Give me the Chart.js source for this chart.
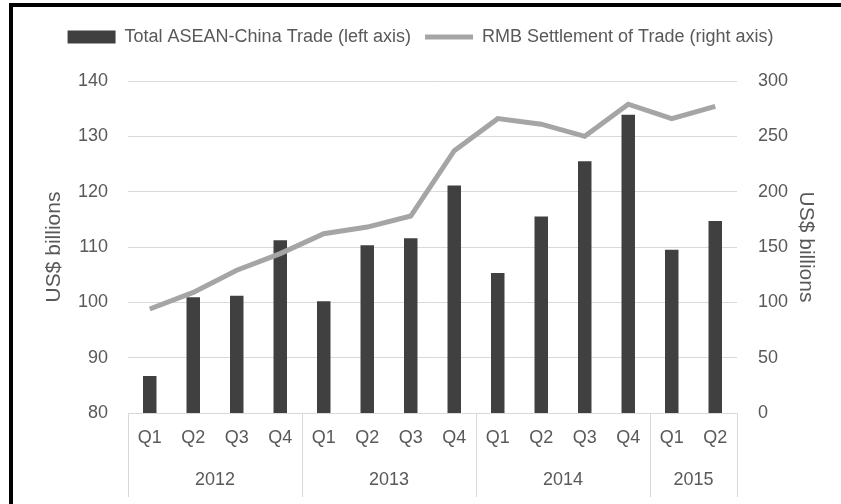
<!DOCTYPE html>
<html>
<head>
<meta charset="utf-8">
<script src="https://cdn.jsdelivr.net/npm/chart.js@4.4.0/dist/chart.umd.min.js"></script>
<style>
html, body { margin: 0; padding: 0; background: #fff; }
#wrap { position: relative; width: 841px; height: 504px; }
#frameTop { position: absolute; left: 9px; top: 3px; width: 832px; height: 4px; background: #000; }
#frameLeft { position: absolute; left: 9px; top: 3px; width: 4px; height: 501px; background: #000; }
</style>
</head>
<body>
<div id="wrap">
  <canvas id="tradeChart" width="841" height="504"></canvas>
  <div id="frameTop"></div>
  <div id="frameLeft"></div>
</div>
<script>
// data
const quarters = ['Q1', 'Q2', 'Q3', 'Q4', 'Q1', 'Q2', 'Q3', 'Q4', 'Q1', 'Q2', 'Q3', 'Q4', 'Q1', 'Q2'];
const years = ['2012', '2013', '2014', '2015'];
const yearSpans = [4, 4, 4, 2];
const tradeTotal = [86.7, 100.9, 101.2, 111.2, 100.2, 110.3, 111.6, 121.1, 105.3, 115.5, 125.5, 133.9, 109.5, 114.7];
const rmbSettlement = [94, 109, 129, 144, 162, 168, 178, 237, 266, 261, 250, 279, 266, 277];
const leftRange = [80, 140, 10];
const rightRange = [0, 300, 50];

const FONT = '"Liberation Sans", Arial, sans-serif';
const TEXT = '#595959';
const GRID = '#d9d9d9';

// second row of the category axis: years + separators
const yearAxisPlugin = {
    id: 'yearAxis',
    afterDraw(chart) {
        const x = chart.scales.x;
        const ctx = chart.ctx;
        const area = chart.chartArea;
        const half = (x.getPixelForValue(1) - x.getPixelForValue(0)) / 2;
        const edges = [0];
        yearSpans.forEach(n => edges.push(edges[edges.length - 1] + n));

        ctx.save();
        ctx.strokeStyle = GRID;
        ctx.lineWidth = 1;
        edges.forEach(i => {
            const last = i >= quarters.length;
            const px = Math.round(x.getPixelForValue(last ? quarters.length - 1 : i) + (last ? half : -half)) + 0.5;
            ctx.beginPath();
            ctx.moveTo(px, area.bottom);
            ctx.lineTo(px, area.bottom + 84);
            ctx.stroke();
        });
        ctx.fillStyle = TEXT;
        ctx.font = '18px ' + FONT;
        ctx.textAlign = 'center';
        ctx.textBaseline = 'middle';
        years.forEach((y, k) => {
            const a = x.getPixelForValue(edges[k]) - half;
            const b = x.getPixelForValue(edges[k + 1] - 1) + half;
            ctx.fillText(y, (a + b) / 2, area.bottom + 67);
        });
        ctx.restore();
    }
};

new Chart(document.getElementById('tradeChart'), {
    type: 'bar',
    data: {
        labels: quarters,
        datasets: [
            {
                type: 'line',
                label: 'RMB Settlement of Trade (right axis)',
                data: rmbSettlement,
                yAxisID: 'y2',
                borderColor: '#a5a5a5',
                borderWidth: 5,
                pointRadius: 0,
                tension: 0,
                order: 0
            },
            {
                label: 'Total ASEAN-China Trade (left axis)',
                data: tradeTotal,
                yAxisID: 'y',
                backgroundColor: '#404040',
                categoryPercentage: 1,
                barPercentage: 0.31,
                order: 1
            }
        ]
    },
    options: {
        responsive: false,
        animation: false,
        layout: { padding: { top: 14, left: 0, right: 0, bottom: 0 } },
        plugins: {
            tooltip: { enabled: false },
            // empty title used as a spacer between legend and plot
            title: { display: true, text: '', weight: 0, font: { size: 10 }, padding: { top: 7, bottom: 6 } },
            legend: {
                position: 'top',
                reverse: true,
                labels: {
                    font: { family: FONT, size: 18 },
                    color: TEXT,
                    usePointStyle: true,
                    pointStyleWidth: 48,
                    boxHeight: 13,
                    padding: 14,
                    generateLabels(chart) {
                        return chart.data.datasets.map((ds, i) => ({
                            text: ds.label,
                            datasetIndex: i,
                            fillStyle: ds.type === 'line' ? 'transparent' : ds.backgroundColor,
                            strokeStyle: ds.type === 'line' ? ds.borderColor : 'transparent',
                            lineWidth: ds.type === 'line' ? 5 : 0,
                            pointStyle: ds.type === 'line' ? 'line' : 'rect',
                            fontColor: TEXT
                        }));
                    }
                }
            }
        },
        scales: {
            x: {
                grid: { display: false, drawTicks: false },
                border: { display: true, color: GRID },
                ticks: { font: { family: FONT, size: 18 }, color: TEXT, padding: 14, maxRotation: 0, autoSkip: false },
                afterFit(scale) { scale.height = 91; }
            },
            y: {
                position: 'left',
                min: leftRange[0],
                max: leftRange[1],
                ticks: { stepSize: leftRange[2], font: { family: FONT, size: 18 }, color: TEXT, padding: 20 },
                grid: { color: GRID, drawTicks: false },
                border: { display: false },
                title: { display: true, text: 'US$ billions', font: { family: FONT, size: 21 }, color: TEXT, padding: { top: 42, bottom: 0 } },
                afterFit(scale) { scale.width = 128; }
            },
            y2: {
                position: 'right',
                min: rightRange[0],
                max: rightRange[1],
                ticks: { stepSize: rightRange[2], font: { family: FONT, size: 18 }, color: TEXT, padding: 21 },
                grid: { display: false, drawTicks: false },
                border: { display: false },
                title: { display: true, text: 'US$ billions', font: { family: FONT, size: 21 }, color: TEXT, padding: { top: 23, bottom: 0 } },
                afterFit(scale) { scale.width = 104; }
            }
        }
    },
    plugins: [yearAxisPlugin]
});
</script>
</body>
</html>
